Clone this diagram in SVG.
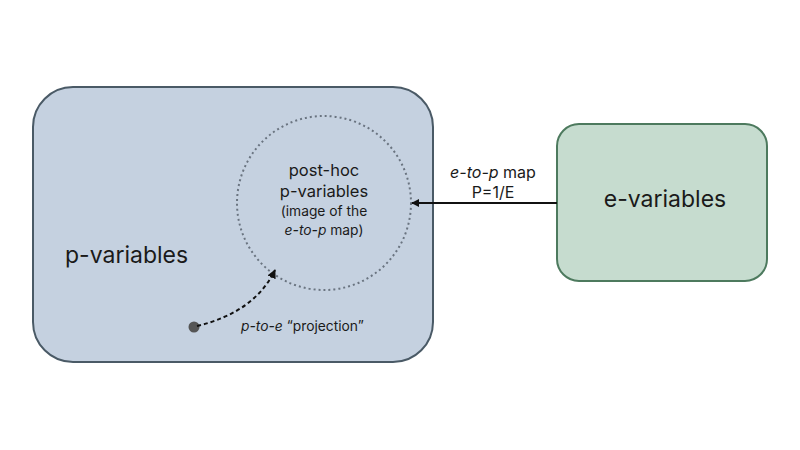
<svg xmlns="http://www.w3.org/2000/svg" width="800" height="450" viewBox="0 0 800 450">
<defs>
<style>
text{font-family:Inter,"Noto Sans",sans-serif;fill:#1a1a1a}
.big{font-size:23px}
.mid{font-size:16.5px}
.lab{font-size:16px}
.sm{font-size:13.8px}
</style>
<marker id="ah" viewBox="0 0 10 10" refX="9" refY="5" markerWidth="8" markerHeight="8" markerUnits="userSpaceOnUse" orient="auto"><path d="M0,0L10,5L0,10z" fill="#111"/></marker>
<marker id="ah2" viewBox="0 0 10 10" refX="9" refY="5" markerWidth="9" markerHeight="9" markerUnits="userSpaceOnUse" orient="auto"><path d="M0,0L10,5L0,10z" fill="#111"/></marker>
</defs>
<rect width="800" height="450" fill="#fff"/>
<g id="p-variables">
<rect x="33" y="87" width="400" height="275" rx="40" fill="#c5d1e0" stroke="#4a5a66" stroke-width="2"/>
<text class="big" x="65" y="263">p-variables</text>
</g>
<g id="post-hoc">
<circle cx="324" cy="203" r="87" fill="none" stroke="#6a7480" stroke-width="2" stroke-dasharray="2 3"/>
<text class="mid" x="324" y="176" text-anchor="middle">post-hoc</text>
<text class="mid" x="324" y="197" text-anchor="middle">p-variables</text>
<text class="sm" x="324" y="216" text-anchor="middle">(image of the</text>
<text class="sm" x="324" y="235" text-anchor="middle"><tspan font-style="italic">e-to-p</tspan> map)</text>
</g>
<g id="e-variables">
<rect x="557" y="124" width="210" height="157" rx="22" fill="#c6dccf" stroke="#4d7a5e" stroke-width="2"/>
<text class="big" x="665" y="207" text-anchor="middle">e-variables</text>
</g>
<g id="dot">
<circle cx="194" cy="327" r="5.5" fill="#555"/>
</g>
<g id="connectors">
<line x1="557" y1="203" x2="412" y2="203" stroke="#111" stroke-width="2" marker-end="url(#ah)"/>
<path d="M197,326 Q255,312 275,270" fill="none" stroke="#111" stroke-width="2" stroke-dasharray="4 3" marker-end="url(#ah2)"/>
</g>
<g id="labels">
<text class="lab" x="493" y="178" text-anchor="middle"><tspan font-style="italic">e-to-p</tspan> map</text>
<text class="lab" x="493" y="198" text-anchor="middle">P=1/E</text>
<text class="sm" x="241" y="331"><tspan font-style="italic">p-to-e</tspan> “projection”</text>
</g>
</svg>
